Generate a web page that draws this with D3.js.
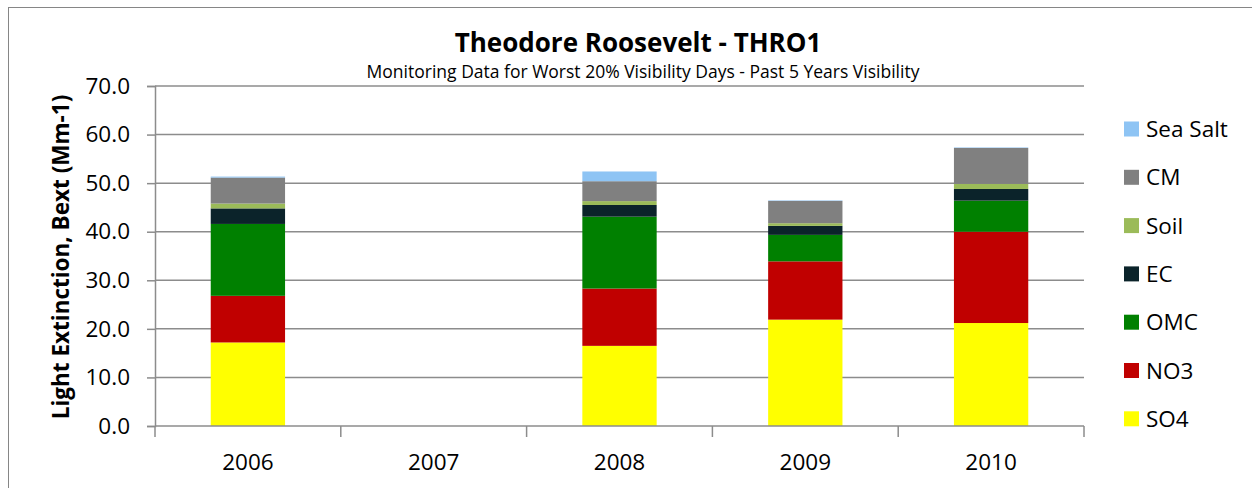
<!DOCTYPE html>
<html>
<head>
<meta charset="utf-8">
<script src="https://cdn.jsdelivr.net/npm/d3@7"></script>
<style>
  body { margin: 0; background: #fff; }
  text { font-family: "Open Sans", "Liberation Sans", sans-serif; fill: #000; }
</style>
</head>
<body>
<svg width="1252" height="488"></svg>
<script>
// data
const years = ["2006", "2007", "2008", "2009", "2010"];
const species = ["SO4", "NO3", "OMC", "EC", "Soil", "CM", "Sea Salt"];
const colors = ["#ffff00", "#c00000", "#008000", "#0b232a", "#9bbb59", "#808080", "#8ec4f4"];
const so4 = [17.2, 0, 16.5, 21.9, 21.2];
const no3 = [9.6, 0, 11.8, 12.0, 18.8];
const omc = [14.8, 0, 14.8, 5.45, 6.4];
const ec = [3.2, 0, 2.4, 1.85, 2.4];
const soil = [1.0, 0, 0.8, 0.55, 1.05];
const cm = [5.35, 0, 4.1, 4.6, 7.4];
const seaSalt = [0.2, 0, 2.0, 0.1, 0.1];
const yTicks = [0, 10, 20, 30, 40, 50, 60, 70];

const series = [so4, no3, omc, ec, soil, cm, seaSalt];
const rows = years.map((y, i) => {
  const r = {year: y};
  species.forEach((s, k) => r[s] = series[k][i]);
  return r;
});

const svg = d3.select("svg");
const plotL = 155, plotR = 1084, plotT = 86, plotB = 426;

// outer chart frame
svg.append("rect").attr("x", 8.5).attr("y", 7.5).attr("width", 1260).attr("height", 500)
   .attr("fill", "none").attr("stroke", "#868686").attr("stroke-width", 1);

const x = d3.scaleBand().domain(years).range([plotL, plotR]).paddingInner(0.6).paddingOuter(0.3);
const xb = d3.scaleBand().domain(years).range([plotL, plotR]);
const y = d3.scaleLinear().domain([0, 70]).range([plotB, plotT]);

// gridlines
svg.append("g").selectAll("line").data(yTicks.slice(1)).join("line")
   .attr("x1", plotL).attr("x2", plotR)
   .attr("y1", d => y(d)).attr("y2", d => y(d))
   .attr("stroke", "#8c8c8c").attr("stroke-width", 1.5);

// stacks
const stack = d3.stack().keys(species)(rows);
svg.append("g").selectAll("g").data(stack).join("g")
   .attr("fill", (d, i) => colors[i])
   .selectAll("rect").data(d => d).join("rect")
   .attr("x", d => x(d.data.year))
   .attr("width", x.bandwidth())
   .attr("y", d => y(d[1]))
   .attr("height", d => y(d[0]) - y(d[1]));

// y axis
const yAxis = svg.append("g").attr("transform", `translate(${plotL},0)`)
   .call(d3.axisLeft(y).tickValues(yTicks).tickFormat(d3.format(".1f")).tickSize(8).tickPadding(17));
yAxis.select(".domain").attr("stroke", "#8c8c8c").attr("stroke-width", 1.5);
yAxis.selectAll(".tick line").attr("stroke", "#8c8c8c").attr("stroke-width", 1.5);
yAxis.selectAll("text").style("font-size", "22.5px").attr("fill", "#000");

// x axis: line + category boundary ticks
svg.append("line").attr("x1", plotL).attr("x2", plotR).attr("y1", plotB).attr("y2", plotB)
   .attr("stroke", "#8c8c8c").attr("stroke-width", 1.5);
const bounds = years.map(d => xb(d)).concat([plotR]);
svg.append("g").selectAll("line").data(bounds).join("line")
   .attr("x1", d => d).attr("x2", d => d).attr("y1", plotB).attr("y2", plotB + 11)
   .attr("stroke", "#8c8c8c").attr("stroke-width", 1.5);
svg.append("g").selectAll("text").data(years).join("text")
   .attr("x", d => xb(d) + xb.bandwidth() / 2).attr("y", 470)
   .attr("text-anchor", "middle").style("font-size", "22.5px").text(d => d);

// titles
svg.append("text").attr("x", 638).attr("y", 52).attr("text-anchor", "middle")
   .style("font-size", "26px").style("font-weight", "bold").text("Theodore Roosevelt - THRO1");
svg.append("text").attr("x", 643).attr("y", 78).attr("text-anchor", "middle")
   .style("font-size", "17.5px").text("Monitoring Data for Worst 20% Visibility Days - Past 5 Years Visibility");
svg.append("text").attr("transform", "translate(69,257) rotate(-90)").attr("text-anchor", "middle")
   .style("font-size", "22.5px").style("font-weight", "bold").text("Light Extinction, Bext (Mm-1)");

// legend, top to bottom reversed
const legend = svg.append("g").selectAll("g").data(species.slice().reverse()).join("g")
   .attr("transform", (d, i) => `translate(1124,${129 + i * 48.3})`);
legend.append("rect").attr("x", 0).attr("y", -7.5).attr("width", 15).attr("height", 15)
   .attr("fill", d => colors[species.indexOf(d)]);
legend.append("text").attr("x", 22).attr("y", 8).style("font-size", "22.5px").text(d => d);
</script>
</body>
</html>
